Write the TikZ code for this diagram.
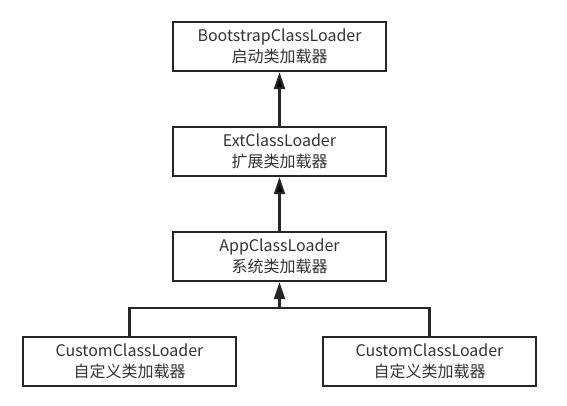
\documentclass[tikz,border=0pt]{standalone}
\usepackage{fontspec}
\setmainfont{Noto Sans CJK SC}
\usetikzlibrary{arrows.meta}

\begin{document}
\begin{tikzpicture}[x=1pt,y=1pt,node distance=105pt]
\tikzstyle{loader}=[rectangle,draw=black!85,line width=2.2pt,fill=white,text=black!80,minimum width=213pt,minimum height=49pt,align=center,font=\fontsize{16pt}{21pt}\selectfont]
\tikzstyle{parent}=[draw=black!85,line width=2.2pt,-{Triangle[length=17pt,width=11pt]}]
\useasboundingbox (0,0) rectangle (567,-405);
\node[loader] (boot) at (279.5,-46.5) {BootstrapClassLoader\\启动类加载器};
\node[loader] (ext)  [below of=boot] {ExtClassLoader\\扩展类加载器};
\node[loader] (app)  [below of=ext] {AppClassLoader\\系统类加载器};
\node[loader] (cust1) [below of=app,xshift=-150pt] {CustomClassLoader\\自定义类加载器};
\node[loader] (cust2) [below of=app,xshift=150pt] {CustomClassLoader\\自定义类加载器};
\coordinate (join) at ([yshift=-26pt]app.south);
\path[parent] (ext) edge (boot);
\path[parent] (app) edge (ext);
\draw[draw=black!85,line width=2.2pt] (cust1.north) |- (join) -| (cust2.north);
\draw[parent] (join) -- (app.south);
\end{tikzpicture}
\end{document}
